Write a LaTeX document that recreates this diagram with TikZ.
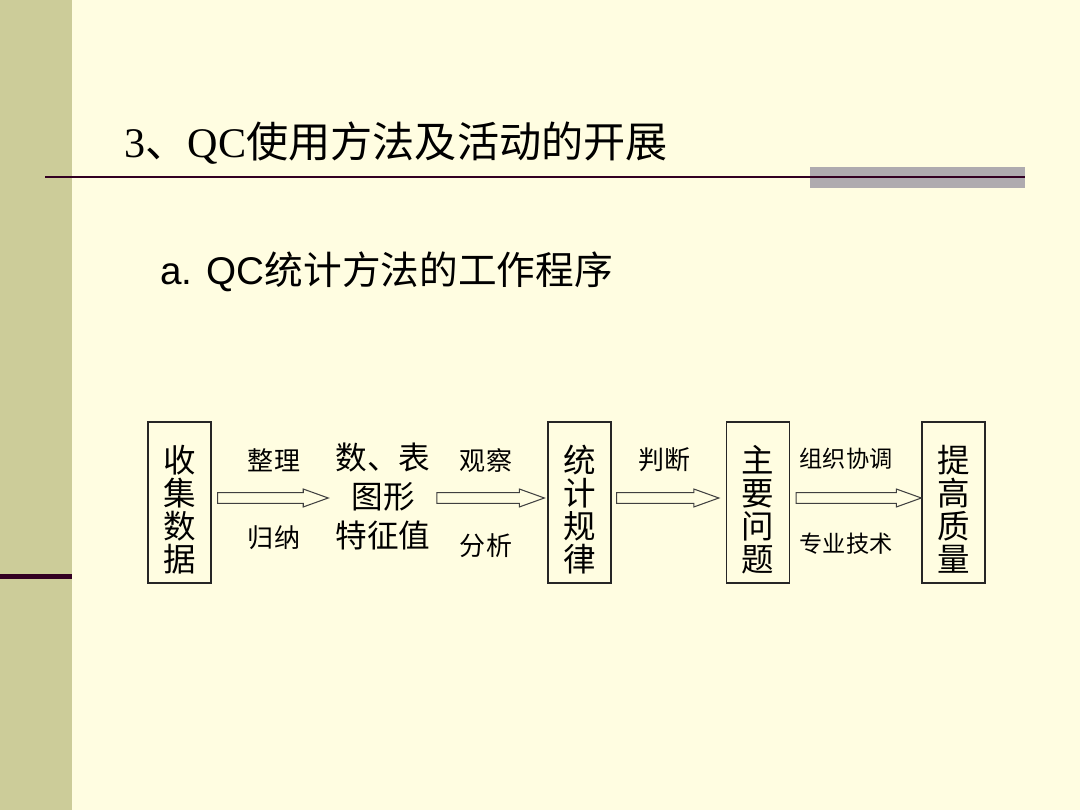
\documentclass[tikz,border=0pt]{standalone}
\usepackage{fontspec}
\setmainfont{Liberation Serif}
\setsansfont{Liberation Sans}
\newfontfamily\cjk{Noto Sans CJK SC}
\usetikzlibrary{calc}

\begin{document}
\begin{tikzpicture}[x=0.02cm, y=-0.02cm, font=\cjk]
  \definecolor{bg}{HTML}{FFFDE1}
  \definecolor{olive}{HTML}{CCCC99}
  \definecolor{plum}{HTML}{330022}
  \definecolor{band}{HTML}{AFABAF}
  \tikzset{
    stepbox/.style={draw=black!85, line width=0.8pt, minimum width=35.8pt, minimum height=91.6pt, inner sep=0pt},
    boxtxt/.style={align=center, inner sep=0pt, yshift=-4pt, font=\cjk\fontsize{18.5}{18.8}\selectfont},
    lbl/.style={inner sep=0pt, font=\cjk\fontsize{14.8}{17}\selectfont},
    hollow/.style={draw=black!75, line width=0.6pt, to path={
      let \p1=(\tikztostart), \p2=(\tikztotarget) in
      (\x1,\y1+3.1pt) -- (\x2-14.2pt,\y1+3.1pt) -- (\x2-14.2pt,\y1+5.1pt) -- (\x2,\y1)
      -- (\x2-14.2pt,\y1-5.1pt) -- (\x2-14.2pt,\y1-3.1pt) -- (\x1,\y1-3.1pt) -- cycle}}
  }

  \useasboundingbox (0,0) rectangle (1080,810);
  \fill [bg] (0,0) rectangle (1080,810);
  \fill [olive] (0,0) rectangle (72,810);
  \fill [plum] (0,574) rectangle (72,579);
  \fill [band] (810,167) rectangle (1025,188);
  \draw [plum, line width=0.8pt] (45,177) -- (1025,177);

  \node (title) at (124,143) [anchor=west, inner sep=0pt, font=\rmfamily\fontsize{24}{28}\selectfont]
    {3{\cjk 、}QC{\cjk 使用方法及活动的开展}};
  \node (sub) at (160,272) [anchor=west, inner sep=0pt, font=\sffamily\fontsize{22}{26}\selectfont]
    {a. QC{\cjk 统计方法的工作程序}};

  \foreach \n/\x/\t in {sj/179.5/收\\集\\数\\据, tj/579.5/统\\计\\规\\律, zy/758/主\\要\\问\\题, tg/953.5/提\\高\\质\\量}
    \node [stepbox, label={[boxtxt]center:\t}] (\n) at (\x,502.5) {};

  \node (tz) at (383,496) [align=center, inner sep=0pt, font=\cjk\fontsize{18}{22.2}\selectfont] {数、表\\图形\\特征值};

  \foreach \n/\x/\y/\t in {zl/274/460/整理, gn/274/538/归纳, gc/486/461/观察, fx/486/546/分析, pd/664/460/判断}
    \node [lbl] (\n) at (\x,\y) {\t};
  \node [lbl, font=\cjk\fontsize{13.2}{16}\selectfont] (zz) at (846,459) {组织协调};
  \node [lbl, font=\cjk\fontsize{13.2}{16}\selectfont] (zj) at (846,544) {专业技术};

  % arrow ends
  \coordinate (a1) at ([shift={(6,-4.5)}]sj.east);
  \coordinate (b1) at ([shift={(-7,0)}]tz.west);
  \coordinate (a2) at ([shift={(6,0)}]tz.east |- a1);
  \coordinate (b2) at ([shift={(-3,0)}]tj.west);
  \coordinate (a3) at ([shift={(5,-4.5)}]tj.east);
  \coordinate (b3) at ([shift={(-7,0)}]zy.west);
  \coordinate (a4) at ([shift={(6,-4.5)}]zy.east);
  \coordinate (b4) at (tg.west);
  \foreach \s/\e in {a1/b1, a2/b2, a3/b3, a4/b4}
    \draw [hollow] (\s) to (\e);
\end{tikzpicture}
\end{document}
